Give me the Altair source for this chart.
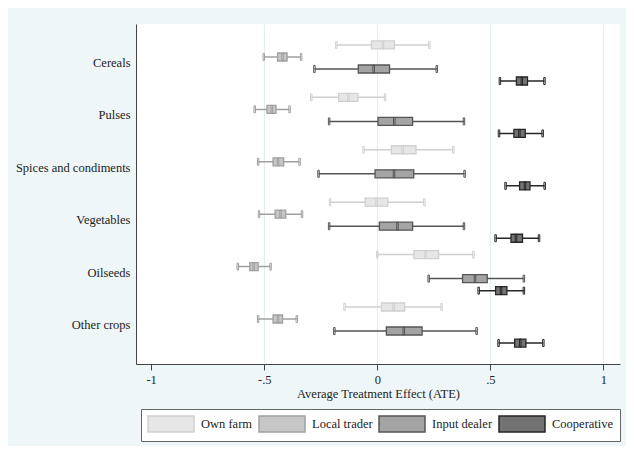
import altair as alt
import pandas as pd

categories = ["Cereals", "Pulses", "Spices and condiments", "Vegetables", "Oilseeds", "Other crops"]
series = ["Own farm", "Local trader", "Input dealer", "Cooperative"]

own_lo = [-0.181, -0.292, -0.061, -0.209, 0.000, -0.145]
own_q1 = [-0.026, -0.171, 0.062, -0.054, 0.162, 0.018]
own_med = [0.025, -0.128, 0.112, -0.003, 0.213, 0.072]
own_q3 = [0.076, -0.086, 0.171, 0.046, 0.271, 0.121]
own_hi = [0.230, 0.034, 0.336, 0.208, 0.425, 0.284]

loc_lo = [-0.502, -0.542, -0.527, -0.523, -0.617, -0.527]
loc_q1 = [-0.441, -0.488, -0.461, -0.452, -0.564, -0.461]
loc_med = [-0.419, -0.467, -0.439, -0.428, -0.547, -0.439]
loc_q3 = [-0.399, -0.448, -0.414, -0.405, -0.527, -0.419]
loc_hi = [-0.337, -0.388, -0.344, -0.333, -0.472, -0.356]

inp_lo = [-0.278, -0.213, -0.260, -0.213, 0.227, -0.190]
inp_q1 = [-0.084, 0.003, -0.010, 0.009, 0.377, 0.040]
inp_med = [-0.016, 0.075, 0.074, 0.089, 0.432, 0.117]
inp_q3 = [0.054, 0.156, 0.161, 0.156, 0.486, 0.198]
inp_hi = [0.263, 0.383, 0.386, 0.383, 0.648, 0.439]

coop_lo = [0.542, 0.538, 0.567, 0.523, 0.448, 0.536]
coop_q1 = [0.615, 0.604, 0.629, 0.591, 0.523, 0.607]
coop_med = [0.639, 0.628, 0.653, 0.613, 0.547, 0.632]
coop_q3 = [0.664, 0.654, 0.675, 0.642, 0.573, 0.657]
coop_hi = [0.739, 0.731, 0.740, 0.715, 0.648, 0.734]

x_ticks = [-1, -0.5, 0, 0.5, 1]

fill_colors = ["#e6e6e6", "#c6c6c6", "#a4a4a4", "#737373"]
stroke_colors = ["#d0d0d0", "#a0a0a0", "#555555", "#262626"]

stats = {
    "Own farm": (own_lo, own_q1, own_med, own_q3, own_hi),
    "Local trader": (loc_lo, loc_q1, loc_med, loc_q3, loc_hi),
    "Input dealer": (inp_lo, inp_q1, inp_med, inp_q3, inp_hi),
    "Cooperative": (coop_lo, coop_q1, coop_med, coop_q3, coop_hi),
}

rows = []
for s in series:
    lo, q1, med, q3, hi = stats[s]
    for i, c in enumerate(categories):
        rows.append({"crop": c, "series": s, "lo": lo[i], "q1": q1[i],
                     "med": med[i], "q3": q3[i], "hi": hi[i]})
df = pd.DataFrame(rows)

FONT = "Liberation Serif"
FS = 12.5
x_dom = [-1.067, 1.073]

legend = alt.Legend(
    title=None, orient="none", legendX=5, legendY=385, direction="horizontal",
    symbolType="M-1,-1H4.75V1H-1Z", symbolSize=256, symbolStrokeWidth=1.5,
    symbolOpacity=1,
    labelOffset=36, columnPadding=3, padding=6, strokeColor="#666666",
    fillColor="white", labelFont=FONT, labelFontSize=FS, labelColor="#222222",
)

fill_enc = alt.Fill("series:N", scale=alt.Scale(domain=series, range=fill_colors), legend=legend)
stroke_enc = alt.Stroke("series:N", scale=alt.Scale(domain=series, range=stroke_colors), legend=legend)

y_enc = alt.Y("crop:N", sort=categories, title=None,
              scale=alt.Scale(paddingOuter=0.244, paddingInner=0),
              axis=alt.Axis(ticks=False, domainColor="#444444", labelFont=FONT,
                            labelFontSize=FS, labelColor="#222222", labelPadding=6,
                            grid=False, domainWidth=1))
yoff_enc = alt.YOffset("series:N", sort=series,
                       scale=alt.Scale(paddingOuter=0.18, paddingInner=0))

x_axis = alt.Axis(values=x_ticks, tickSize=6, tickColor="#444444", domainColor="#444444",
                  labelFont=FONT, labelFontSize=FS, labelColor="#222222", labelPadding=3,
                  labelExpr="replace(toString(datum.value), '0.', '.')",
                  title="Average Treatment Effect (ATE)", titleFont=FONT, titleFontSize=FS,
                  titleFontWeight="normal", titleColor="#222222", titlePadding=2,
                  grid=True, gridColor=alt.condition("datum.value == -1", alt.value("transparent"), alt.value("#e2eef1")),
                  labelFlush=False)

base = alt.Chart(df)

whisk = base.mark_rule(strokeWidth=1.5, opacity=1).encode(
    x=alt.X("lo:Q", scale=alt.Scale(domain=x_dom, nice=False, zero=False), axis=x_axis),
    x2="hi:Q", y=y_enc, yOffset=yoff_enc, stroke=stroke_enc)

cap_lo = base.mark_tick(size=7, thickness=1.5, orient="vertical", opacity=1).encode(
    x="lo:Q", y=y_enc, yOffset=yoff_enc, stroke=stroke_enc, color=alt.value(None))
cap_hi = base.mark_tick(size=7, thickness=1.5, orient="vertical", opacity=1).encode(
    x="hi:Q", y=y_enc, yOffset=yoff_enc, stroke=stroke_enc, color=alt.value(None))

box = base.mark_bar(size=8, strokeWidth=1.3, opacity=1).encode(
    x="q1:Q", x2="q3:Q", y=y_enc, yOffset=yoff_enc, fill=fill_enc, stroke=stroke_enc)

med = base.mark_tick(size=8, thickness=1.5, orient="vertical", opacity=1).encode(
    x="med:Q", y=y_enc, yOffset=yoff_enc, stroke=stroke_enc, color=alt.value(None))

chart = alt.layer(whisk, cap_lo, cap_hi, box, med).properties(
    width=484, height=340,
    autosize=alt.AutoSizeParams(type="none"),
    padding={"left": 128, "top": 16, "right": 6, "bottom": 82},
    background="#eef6f8",
).configure_view(stroke=None, fill="white")

chart.save("out.html", embed_options={"renderer": "svg", "actions": False})
